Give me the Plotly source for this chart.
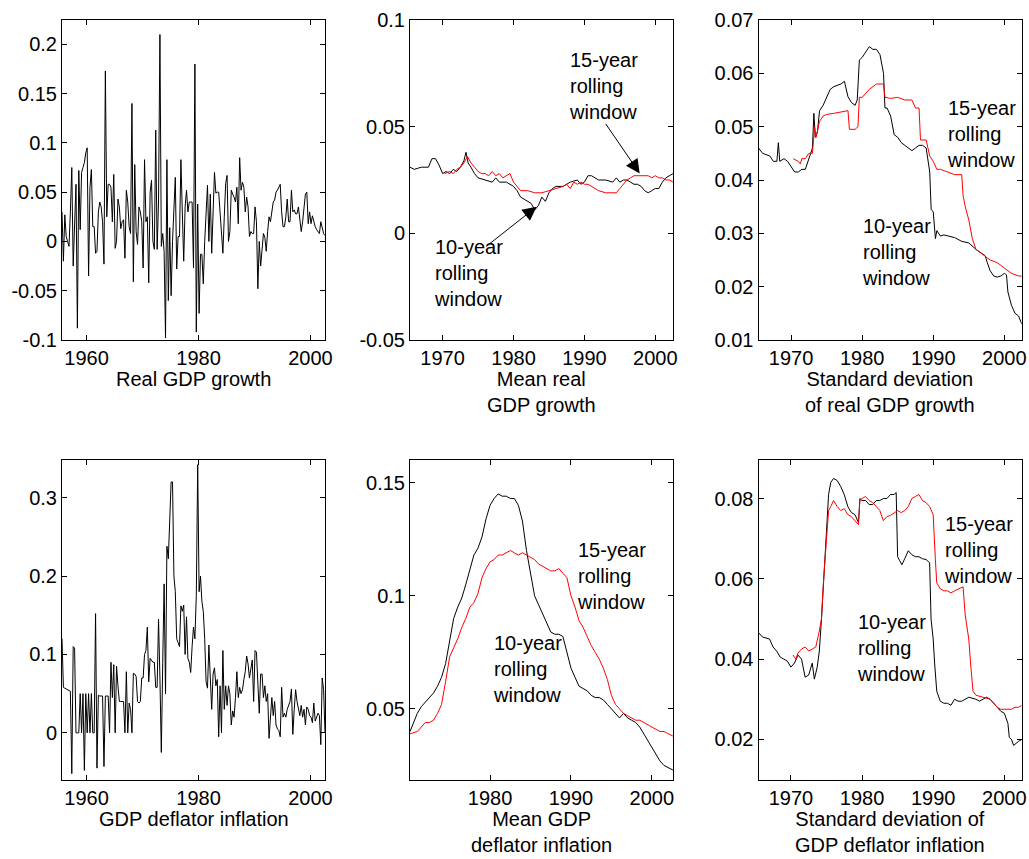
import plotly.graph_objects as go

W, H = 1029, 859

# ---------------- quarterly observations ----------------
q_start = 1955.6
gdp_growth = [
    0.03, -0.02, 0.027, 0.005, 0.0, -0.005, 0.03, 0.075, -0.025, 0.01,
    0.058, -0.088, 0.072, 0.012, 0.07, 0.075, 0.08, 0.09, 0.095, -0.035,
    0.055, 0.073, 0.015, 0.015, -0.012, -0.01, 0.03, 0.04, 0.035, 0.02,
    -0.023, 0.173, 0.025, 0.058, 0.058, 0.055, 0.02, 0.068, -0.007, 0.0,
    0.043, 0.035, 0.013, 0.02, 0.022, -0.017, 0.052, 0.04, 0.015, 0.008,
    0.14, -0.041, 0.078, 0.01, -0.003, 0.035, 0.03, 0.02, -0.027, 0.083,
    0.02, 0.025, -0.042, 0.05, 0.062, 0.0, -0.008, 0.113, -0.008, 0.04,
    0.21, -0.005, 0.008, -0.01, -0.098, 0.083, -0.06, 0.014, -0.055, 0.0,
    0.03, 0.065, -0.028, 0.005, 0.005, 0.083, 0.03, -0.02, 0.035, 0.052,
    0.03, 0.04, 0.04, 0.04, -0.027, 0.18, -0.092, 0.038, -0.073, -0.013,
    -0.013, -0.043, 0.0, 0.03, 0.057, 0.0, 0.048, -0.012, 0.028, 0.07,
    0.049, 0.05, 0.05, 0.027, 0.0, -0.012, 0.025, 0.059, 0.067, 0.0,
    0.01, 0.052, 0.048, 0.045, 0.04, 0.055, 0.018, 0.085, 0.052, 0.06,
    0.055, 0.03, 0.045, 0.035, 0.005, 0.01, 0.008, 0.008, 0.035, 0.02,
    -0.048, 0.0, -0.025, -0.012, 0.008, 0.004, -0.01, 0.01, 0.025, 0.02,
    0.033, 0.04, 0.042, 0.05, 0.052, 0.055, 0.058, 0.03, 0.015, 0.015,
    0.025, 0.043, 0.02, 0.02, 0.052, 0.03, 0.032, 0.028, 0.028, 0.035,
    0.02, 0.01, 0.02, 0.038, 0.048, 0.05, 0.018, 0.03, 0.018, 0.026,
    0.02, 0.015, 0.012, 0.01, 0.008, 0.02, 0.015, 0.008, 0.006,
]
deflator_inflation = [
    0.12, 0.058, 0.057, 0.056, 0.055, 0.054, 0.053, -0.052, 0.11, 0.108,
    0.0, 0.0, 0.0, 0.05, 0.0, 0.05, -0.048, 0.05, 0.0, 0.05,
    0.0, 0.05, 0.0, 0.0, 0.152, -0.045, 0.048, 0.047, 0.047, 0.047,
    -0.043, 0.047, 0.047, 0.047, 0.0, 0.09, 0.045, 0.087, 0.0, 0.085,
    0.06, 0.04, 0.04, 0.04, 0.04, 0.0, 0.078, 0.0, 0.038, 0.03,
    0.0, 0.076, 0.075, 0.072, 0.04, 0.038, 0.04, 0.07, 0.07, 0.1,
    0.105, 0.135, 0.065, 0.095, 0.093, 0.09, 0.09, 0.058, 0.058, 0.145,
    0.07, -0.025, 0.09, 0.19, 0.05, 0.238, 0.222, 0.27, 0.32, 0.32,
    0.2, 0.18, 0.12, 0.115, 0.11, 0.162, 0.155, 0.163, 0.1, 0.148,
    0.095, 0.09, 0.077, 0.11, 0.135, 0.12, 0.175, 0.342, 0.18, 0.2,
    0.168, 0.155, 0.12, 0.065, 0.057, 0.112, 0.06, 0.03, 0.075, 0.083,
    0.06, 0.068, -0.005, 0.06, 0.0, 0.105, 0.03, 0.06, 0.035, 0.06,
    0.05, 0.01, 0.028, 0.02, 0.045, 0.078, 0.045, 0.058, 0.05, 0.055,
    0.068, 0.078, 0.098, 0.088, 0.07, 0.085, 0.093, 0.04, 0.105, 0.103,
    0.06, 0.025, 0.075, 0.075, 0.045, 0.06, 0.04, 0.05, -0.007, 0.02,
    0.045, 0.022, 0.04, 0.01, 0.005, 0.003, -0.005, 0.058, 0.02, 0.025,
    0.02, 0.03, 0.035, 0.04, 0.056, -0.002, 0.03, 0.055, 0.04, 0.03,
    0.022, 0.035, 0.02, 0.03, 0.01, 0.033, 0.03, 0.022, 0.02, 0.013,
    0.038, 0.015, 0.02, 0.025, 0.022, -0.015, 0.07, 0.055, 0.0,
]
quarters = [q_start + 0.25 * i for i in range(len(gdp_growth))]

# ---------------- rolling-window statistics ----------------
# mean real GDP growth
mean_gdp_10_years = [1965.4, 1966, 1967, 1968, 1968.5, 1969, 1969.5, 1970, 1970.5, 1971,
                     1971.5, 1972, 1972.5, 1973, 1973.3, 1973.6, 1974, 1974.5, 1975, 1976,
                     1977, 1977.5, 1978, 1979, 1980, 1980.5, 1981, 1981.5, 1982, 1982.5,
                     1983, 1983.5, 1984, 1984.5, 1985, 1985.5, 1986, 1987, 1988, 1989,
                     1989.5, 1990, 1990.5, 1991, 1991.5, 1992, 1993, 1994, 1994.5, 1995,
                     1995.5, 1996, 1996.5, 1997, 1997.5, 1998, 1998.5, 1999, 1999.5, 2000,
                     2000.5, 2001, 2001.5, 2002, 2002.5]
mean_gdp_10 = [0.031, 0.030, 0.031, 0.031, 0.035, 0.035, 0.032, 0.028, 0.029, 0.028,
               0.030, 0.029, 0.031, 0.034, 0.038, 0.033, 0.031, 0.028, 0.026, 0.025,
               0.024, 0.026, 0.024, 0.024, 0.022, 0.020, 0.017, 0.016, 0.015, 0.014,
               0.011, 0.013, 0.017, 0.015, 0.019, 0.021, 0.022, 0.022, 0.024, 0.025,
               0.023, 0.024, 0.027, 0.027, 0.026, 0.025, 0.025, 0.024, 0.026, 0.024,
               0.025, 0.025, 0.024, 0.023, 0.023, 0.022, 0.020, 0.019, 0.020, 0.021,
               0.021, 0.024, 0.026, 0.027, 0.028]
mean_gdp_15_years = [1970.3, 1971, 1971.5, 1972, 1972.5, 1973, 1973.5, 1974, 1974.5, 1975,
                     1975.5, 1976, 1976.5, 1977, 1977.5, 1978, 1978.5, 1979, 1979.5, 1980,
                     1980.5, 1981, 1982, 1983, 1984, 1985, 1986, 1987, 1987.5, 1988,
                     1988.5, 1989, 1989.5, 1990, 1990.5, 1991, 1992, 1993, 1994, 1994.5,
                     1995, 1995.5, 1996, 1996.5, 1997, 1998, 1999, 1999.5, 2000, 2000.5,
                     2001, 2001.5, 2002, 2002.5]
mean_gdp_15 = [0.028, 0.029, 0.028, 0.030, 0.031, 0.033, 0.036, 0.033, 0.031, 0.029,
               0.028, 0.028, 0.027, 0.029, 0.027, 0.028, 0.026, 0.027, 0.028, 0.024,
               0.022, 0.020, 0.020, 0.019, 0.019, 0.020, 0.021, 0.022, 0.023, 0.021,
               0.024, 0.023, 0.024, 0.023, 0.023, 0.022, 0.020, 0.019, 0.019, 0.019,
               0.021, 0.023, 0.025, 0.026, 0.027, 0.027, 0.027, 0.026, 0.027, 0.026,
               0.026, 0.025, 0.025, 0.024]

# standard deviation of real GDP growth
sd_gdp_10_years = [1965.4, 1966, 1967, 1967.5, 1968, 1968.2, 1968.4, 1969, 1969.5, 1970,
                   1970.5, 1971, 1971.5, 1972, 1972.5, 1973, 1973.2, 1973.4, 1973.7, 1974,
                   1974.5, 1975, 1975.5, 1976, 1977, 1977.5, 1978, 1978.5, 1979, 1979.3,
                   1979.6, 1980, 1980.5, 1981, 1981.5, 1982, 1982.5, 1983, 1983.2, 1983.5,
                   1984, 1984.5, 1985, 1985.5, 1986, 1986.5, 1987, 1987.5, 1988, 1988.5,
                   1989, 1989.5, 1989.7, 1990, 1990.3, 1990.5, 1991, 1991.5, 1992, 1993,
                   1994, 1995, 1996, 1997, 1997.3, 1997.6, 1998, 1998.5, 1999, 1999.5,
                   2000, 2000.3, 2000.5, 2001, 2001.5, 2002, 2002.45]
sd_gdp_10 = [0.046, 0.045, 0.0445, 0.0435, 0.0435, 0.047, 0.0435, 0.044, 0.0435, 0.0425,
             0.0415, 0.0415, 0.042, 0.042, 0.044, 0.046, 0.0525, 0.048, 0.049, 0.053,
             0.054, 0.0555, 0.057, 0.0575, 0.058, 0.0585, 0.0556, 0.0545, 0.054, 0.055,
             0.0625, 0.063, 0.064, 0.065, 0.0645, 0.0645, 0.0635, 0.060, 0.0535, 0.0535,
             0.052, 0.0485, 0.048, 0.047, 0.0465, 0.046, 0.0455, 0.046, 0.0465, 0.0465,
             0.046, 0.0415, 0.0345, 0.034, 0.029, 0.0305, 0.0295, 0.0297, 0.0295, 0.0292,
             0.0285, 0.0282, 0.027, 0.026, 0.0258, 0.0245, 0.023, 0.022, 0.0218, 0.022,
             0.0225, 0.0222, 0.019, 0.0165, 0.015, 0.0145, 0.013]
sd_gdp_15_years = [1970.3, 1971, 1971.3, 1971.5, 1972, 1972.5, 1973, 1973.3, 1973.5, 1974,
                   1974.5, 1975, 1976, 1977, 1978, 1978.2, 1979, 1979.4, 1979.6, 1980,
                   1981, 1982, 1983, 1983.2, 1984, 1985, 1986, 1987, 1987.5, 1988,
                   1988.2, 1989, 1989.5, 1990, 1990.5, 1991, 1992, 1993, 1994, 1994.2,
                   1994.5, 1995, 1995.5, 1996, 1997, 1998, 1999, 2000, 2001, 2002,
                   2002.45]
sd_gdp_15 = [0.044, 0.0435, 0.043, 0.044, 0.044, 0.045, 0.045, 0.050, 0.048, 0.051,
             0.052, 0.0523, 0.0525, 0.0528, 0.053, 0.0495, 0.0495, 0.050, 0.0555, 0.0555,
             0.057, 0.058, 0.058, 0.0555, 0.0553, 0.0555, 0.055, 0.055, 0.0535, 0.0535,
             0.0475, 0.0475, 0.0445, 0.0435, 0.042, 0.042, 0.0415, 0.041, 0.041, 0.037,
             0.035, 0.0325, 0.029, 0.027, 0.026, 0.025, 0.0245, 0.0235, 0.0225, 0.022,
             0.022]

# mean GDP deflator inflation
mean_inf_10_years = [1970.1, 1971, 1971.5, 1972, 1972.5, 1973, 1973.5, 1974, 1974.5, 1975,
                     1975.5, 1976, 1976.5, 1977, 1977.5, 1978, 1978.5, 1979, 1979.5, 1980,
                     1980.5, 1981, 1981.5, 1982, 1982.5, 1983, 1983.5, 1984, 1984.5, 1985,
                     1985.5, 1986, 1986.5, 1987, 1987.5, 1988, 1988.5, 1989, 1989.5, 1990,
                     1990.5, 1991, 1991.5, 1992, 1992.5, 1993, 1993.5, 1994, 1994.5, 1995,
                     1995.5, 1996, 1996.5, 1997, 1997.5, 1998, 1998.5, 1999, 1999.5, 2000,
                     2000.5, 2001, 2001.5, 2002, 2002.6]
mean_inf_10 = [0.040, 0.048, 0.051, 0.053, 0.055, 0.057, 0.060, 0.064, 0.070, 0.080,
               0.090, 0.095, 0.099, 0.105, 0.112, 0.118, 0.121, 0.126, 0.134, 0.140,
               0.143, 0.145, 0.144, 0.144, 0.143, 0.143, 0.140, 0.133, 0.120, 0.110,
               0.100, 0.096, 0.092, 0.088, 0.084, 0.083, 0.083, 0.082, 0.075, 0.068,
               0.064, 0.060, 0.059, 0.058, 0.056, 0.055, 0.055, 0.054, 0.052, 0.050,
               0.048, 0.046, 0.048, 0.046, 0.045, 0.044, 0.042, 0.039, 0.036, 0.033,
               0.030, 0.027, 0.025, 0.024, 0.023]
mean_inf_15_years = mean_inf_10_years
mean_inf_15 = [0.039, 0.040, 0.042, 0.044, 0.044, 0.045, 0.048, 0.052, 0.062, 0.073,
               0.077, 0.081, 0.086, 0.090, 0.095, 0.097, 0.101, 0.108, 0.112, 0.115,
               0.116, 0.118, 0.118, 0.119, 0.120, 0.119, 0.118, 0.119, 0.118, 0.117,
               0.116, 0.114, 0.113, 0.112, 0.111, 0.111, 0.112, 0.110, 0.108, 0.100,
               0.095, 0.089, 0.086, 0.082, 0.078, 0.075, 0.072, 0.068, 0.063, 0.056,
               0.052, 0.050, 0.048, 0.047, 0.046, 0.045, 0.045, 0.044, 0.043, 0.042,
               0.041, 0.040, 0.040, 0.039, 0.038]

# standard deviation of GDP deflator inflation
sd_inf_10_years = [1965.5, 1966, 1967, 1967.5, 1968, 1968.5, 1969, 1969.5, 1970, 1970.5,
                   1971, 1971.5, 1972, 1972.5, 1973, 1973.3, 1973.7, 1974, 1974.3, 1974.6,
                   1975, 1975.3, 1975.6, 1976, 1976.5, 1977, 1977.5, 1978, 1978.5, 1979,
                   1979.5, 1979.7, 1980, 1980.5, 1981, 1981.5, 1982, 1982.5, 1983, 1983.5,
                   1984, 1984.5, 1984.8, 1985, 1985.3, 1985.6, 1986, 1986.5, 1987, 1987.5,
                   1988, 1988.5, 1989, 1989.5, 1989.7, 1990, 1990.2, 1990.5, 1991, 1991.5,
                   1992, 1992.5, 1993, 1993.5, 1994, 1994.5, 1995, 1996, 1996.5, 1997,
                   1997.5, 1998, 1998.5, 1999, 1999.5, 2000, 2000.5, 2000.7, 2001, 2001.3,
                   2001.6, 2002, 2002.45]
sd_inf_10 = [0.0465, 0.0455, 0.045, 0.043, 0.042, 0.0405, 0.040, 0.0395, 0.038, 0.039,
             0.041, 0.040, 0.0355, 0.036, 0.039, 0.035, 0.038, 0.042, 0.050, 0.060,
             0.070, 0.081, 0.084, 0.085, 0.0845, 0.083, 0.081, 0.078, 0.0765, 0.076,
             0.074, 0.080, 0.0795, 0.0795, 0.0785, 0.0785, 0.0795, 0.0795, 0.080, 0.080,
             0.081, 0.081, 0.0815, 0.0655, 0.0645, 0.0635, 0.065, 0.067, 0.066, 0.0655,
             0.0655, 0.065, 0.0648, 0.064, 0.050, 0.045, 0.039, 0.032, 0.0295, 0.029,
             0.029, 0.0285, 0.030, 0.0295, 0.0295, 0.030, 0.0305, 0.030, 0.0295, 0.030,
             0.0305, 0.030, 0.029, 0.028, 0.027, 0.0265, 0.024, 0.0205, 0.020, 0.0185,
             0.019, 0.0195, 0.020]
sd_inf_15_years = [1970.3, 1970.7, 1971, 1971.5, 1972, 1972.5, 1973, 1973.5, 1974, 1974.3,
                   1974.6, 1975, 1975.3, 1975.6, 1976, 1976.5, 1977, 1977.5, 1978, 1978.5,
                   1979, 1979.5, 1979.7, 1980, 1980.5, 1981, 1981.5, 1982, 1982.5, 1983,
                   1983.5, 1984, 1984.5, 1985, 1985.5, 1986, 1986.5, 1987, 1987.5, 1988,
                   1988.5, 1989, 1989.5, 1990, 1990.3, 1990.5, 1991, 1991.5, 1992, 1992.5,
                   1993, 1993.5, 1994, 1994.2, 1994.5, 1995, 1995.3, 1995.6, 1996, 1997,
                   1998, 1999, 1999.5, 2000, 2001, 2001.5, 2002, 2002.45]
sd_inf_15 = [0.041, 0.040, 0.0415, 0.0425, 0.043, 0.042, 0.0425, 0.043, 0.047, 0.050,
             0.060, 0.070, 0.077, 0.078, 0.0795, 0.078, 0.077, 0.0775, 0.076, 0.0755,
             0.0745, 0.0735, 0.0795, 0.080, 0.0805, 0.0795, 0.079, 0.078, 0.077, 0.0745,
             0.0755, 0.0758, 0.0765, 0.077, 0.0765, 0.077, 0.078, 0.080, 0.0805, 0.081,
             0.0795, 0.079, 0.078, 0.076, 0.065, 0.059, 0.0575, 0.057, 0.057, 0.0565,
             0.057, 0.0575, 0.058, 0.058, 0.051, 0.045, 0.038, 0.032, 0.031, 0.0305,
             0.030, 0.028, 0.0275, 0.0275, 0.0275, 0.028, 0.028, 0.0285]

# ---------------- axis labels ----------------
panel_titles = ["Real GDP growth", "Mean real<br>GDP growth",
                "Standard deviation<br>of real GDP growth",
                "GDP deflator inflation", "Mean GDP<br>deflator inflation",
                "Standard deviation of<br>GDP deflator inflation"]
window_15_label = "15-year<br>rolling<br>window"
window_10_label = "10-year<br>rolling<br>window"

y_ticks = [
    [-0.1, -0.05, 0, 0.05, 0.1, 0.15, 0.2],
    [-0.05, 0, 0.05, 0.1],
    [0.01, 0.02, 0.03, 0.04, 0.05, 0.06, 0.07],
    [0, 0.1, 0.2, 0.3],
    [0.05, 0.1, 0.15],
    [0.02, 0.04, 0.06, 0.08],
]
y_tick_text = [
    ["-0.1", "-0.05", "0", "0.05", "0.1", "0.15", "0.2"],
    ["-0.05", "0", "0.05", "0.1"],
    ["0.01", "0.02", "0.03", "0.04", "0.05", "0.06", "0.07"],
    ["0", "0.1", "0.2", "0.3"],
    ["0.05", "0.1", "0.15"],
    ["0.02", "0.04", "0.06", "0.08"],
]
x_ticks = [
    [1960, 1980, 2000],
    [1970, 1980, 1990, 2000],
    [1970, 1980, 1990, 2000],
    [1960, 1980, 2000],
    [1980, 1990, 2000],
    [1970, 1980, 1990, 2000],
]

# ---------------- layout geometry (pixels) ----------------
col_px = [(62, 325), (410, 673.3), (758.5, 1021.7)]
row_px = [(20, 340), (460, 779.5)]
x_ranges = [[1955.6, 2002.6], [1965.4, 2002.54], [1965.41, 2002.44],
            [1955.6, 2002.6], [1970.1, 2002.65], [1965.45, 2002.44]]
y_ranges = [[-0.1, 0.2247], [-0.05, 0.1], [0.01, 0.07],
            [-0.0595, 0.348], [0.0188, 0.16], [0.01, 0.0896]]

FONT = "Liberation Sans, Arial, Helvetica, sans-serif"
FS = 20


def fx(p):
    return p / W


def fy(p):
    return 1 - p / H


fig = go.Figure()

black = dict(color="black", width=1)
red = dict(color="#ff0000", width=1)

series = [
    [(quarters, gdp_growth, black)],
    [(mean_gdp_10_years, mean_gdp_10, black), (mean_gdp_15_years, mean_gdp_15, red)],
    [(sd_gdp_10_years, sd_gdp_10, black), (sd_gdp_15_years, sd_gdp_15, red)],
    [(quarters, deflator_inflation, black)],
    [(mean_inf_10_years, mean_inf_10, black), (mean_inf_15_years, mean_inf_15, red)],
    [(sd_inf_10_years, sd_inf_10, black), (sd_inf_15_years, sd_inf_15, red)],
]

layout = dict(
    width=W, height=H,
    margin=dict(l=0, r=0, t=0, b=0, autoexpand=False),
    paper_bgcolor="white", plot_bgcolor="white",
    showlegend=False,
    font=dict(family=FONT, size=FS, color="black"),
)

annotations = []
for k in range(6):
    r, c = divmod(k, 3)
    n = k + 1
    xa = "x" if n == 1 else f"x{n}"
    ya = "y" if n == 1 else f"y{n}"
    for xs, ys, ln in series[k]:
        fig.add_trace(go.Scatter(x=xs, y=ys, mode="lines", line=ln,
                                 xaxis=xa, yaxis=ya, hoverinfo="skip"))
    axis_common = dict(showline=True, linecolor="black", linewidth=1, mirror="ticks",
                       ticks="inside", ticklen=5, tickwidth=1, tickcolor="black",
                       showgrid=False, zeroline=False, automargin=False,
                       tickfont=dict(family=FONT, size=FS, color="black"))
    x0, x1 = col_px[c]
    y0, y1 = row_px[r]
    layout["xaxis" if n == 1 else f"xaxis{n}"] = dict(
        axis_common, domain=[fx(x0), fx(x1)], range=x_ranges[k],
        anchor=ya, tickvals=x_ticks[k], ticktext=[str(v) for v in x_ticks[k]])
    layout["yaxis" if n == 1 else f"yaxis{n}"] = dict(
        axis_common, domain=[fy(y1), fy(y0)], range=y_ranges[k],
        anchor=xa, tickvals=y_ticks[k], ticktext=y_tick_text[k])
    # label under each panel
    annotations.append(dict(text=panel_titles[k], xref="paper", yref="paper",
                            x=fx((x0 + x1) / 2), y=fy(y1 + 26), xanchor="center",
                            yanchor="top", showarrow=False, align="center",
                            font=dict(family=FONT, size=FS, color="black")))

# rolling-window labels: (text, left px, centre px)
window_labels = [
    (window_15_label, 567, 86), (window_10_label, 432, 273),
    (window_15_label, 945, 134.5), (window_10_label, 859.7, 252),
    (window_15_label, 575, 576), (window_10_label, 491, 668.5),
    (window_15_label, 942, 549.5), (window_10_label, 854.7, 648),
]
for text, lx, cy in window_labels:
    annotations.append(dict(text=text, xref="paper", yref="paper", x=fx(lx), y=fy(cy),
                            xanchor="left", yanchor="middle", showarrow=False,
                            align="left", font=dict(family=FONT, size=FS, color="black")))

# arrows pointing at the two curves in the mean real GDP growth panel
arrow_style = dict(text="", showarrow=True, arrowhead=2, arrowsize=2.8, arrowwidth=1,
                   arrowcolor="black", xref="x2", yref="y2", standoff=0)
annotations.append(dict(arrow_style, x=1997.8, y=0.0281, ax=-35, ay=-51))
annotations.append(dict(arrow_style, x=1983.26, y=0.0125, ax=-52, ay=41))

layout["annotations"] = annotations
fig.update_layout(**layout)
fig.write_html("out.html")
